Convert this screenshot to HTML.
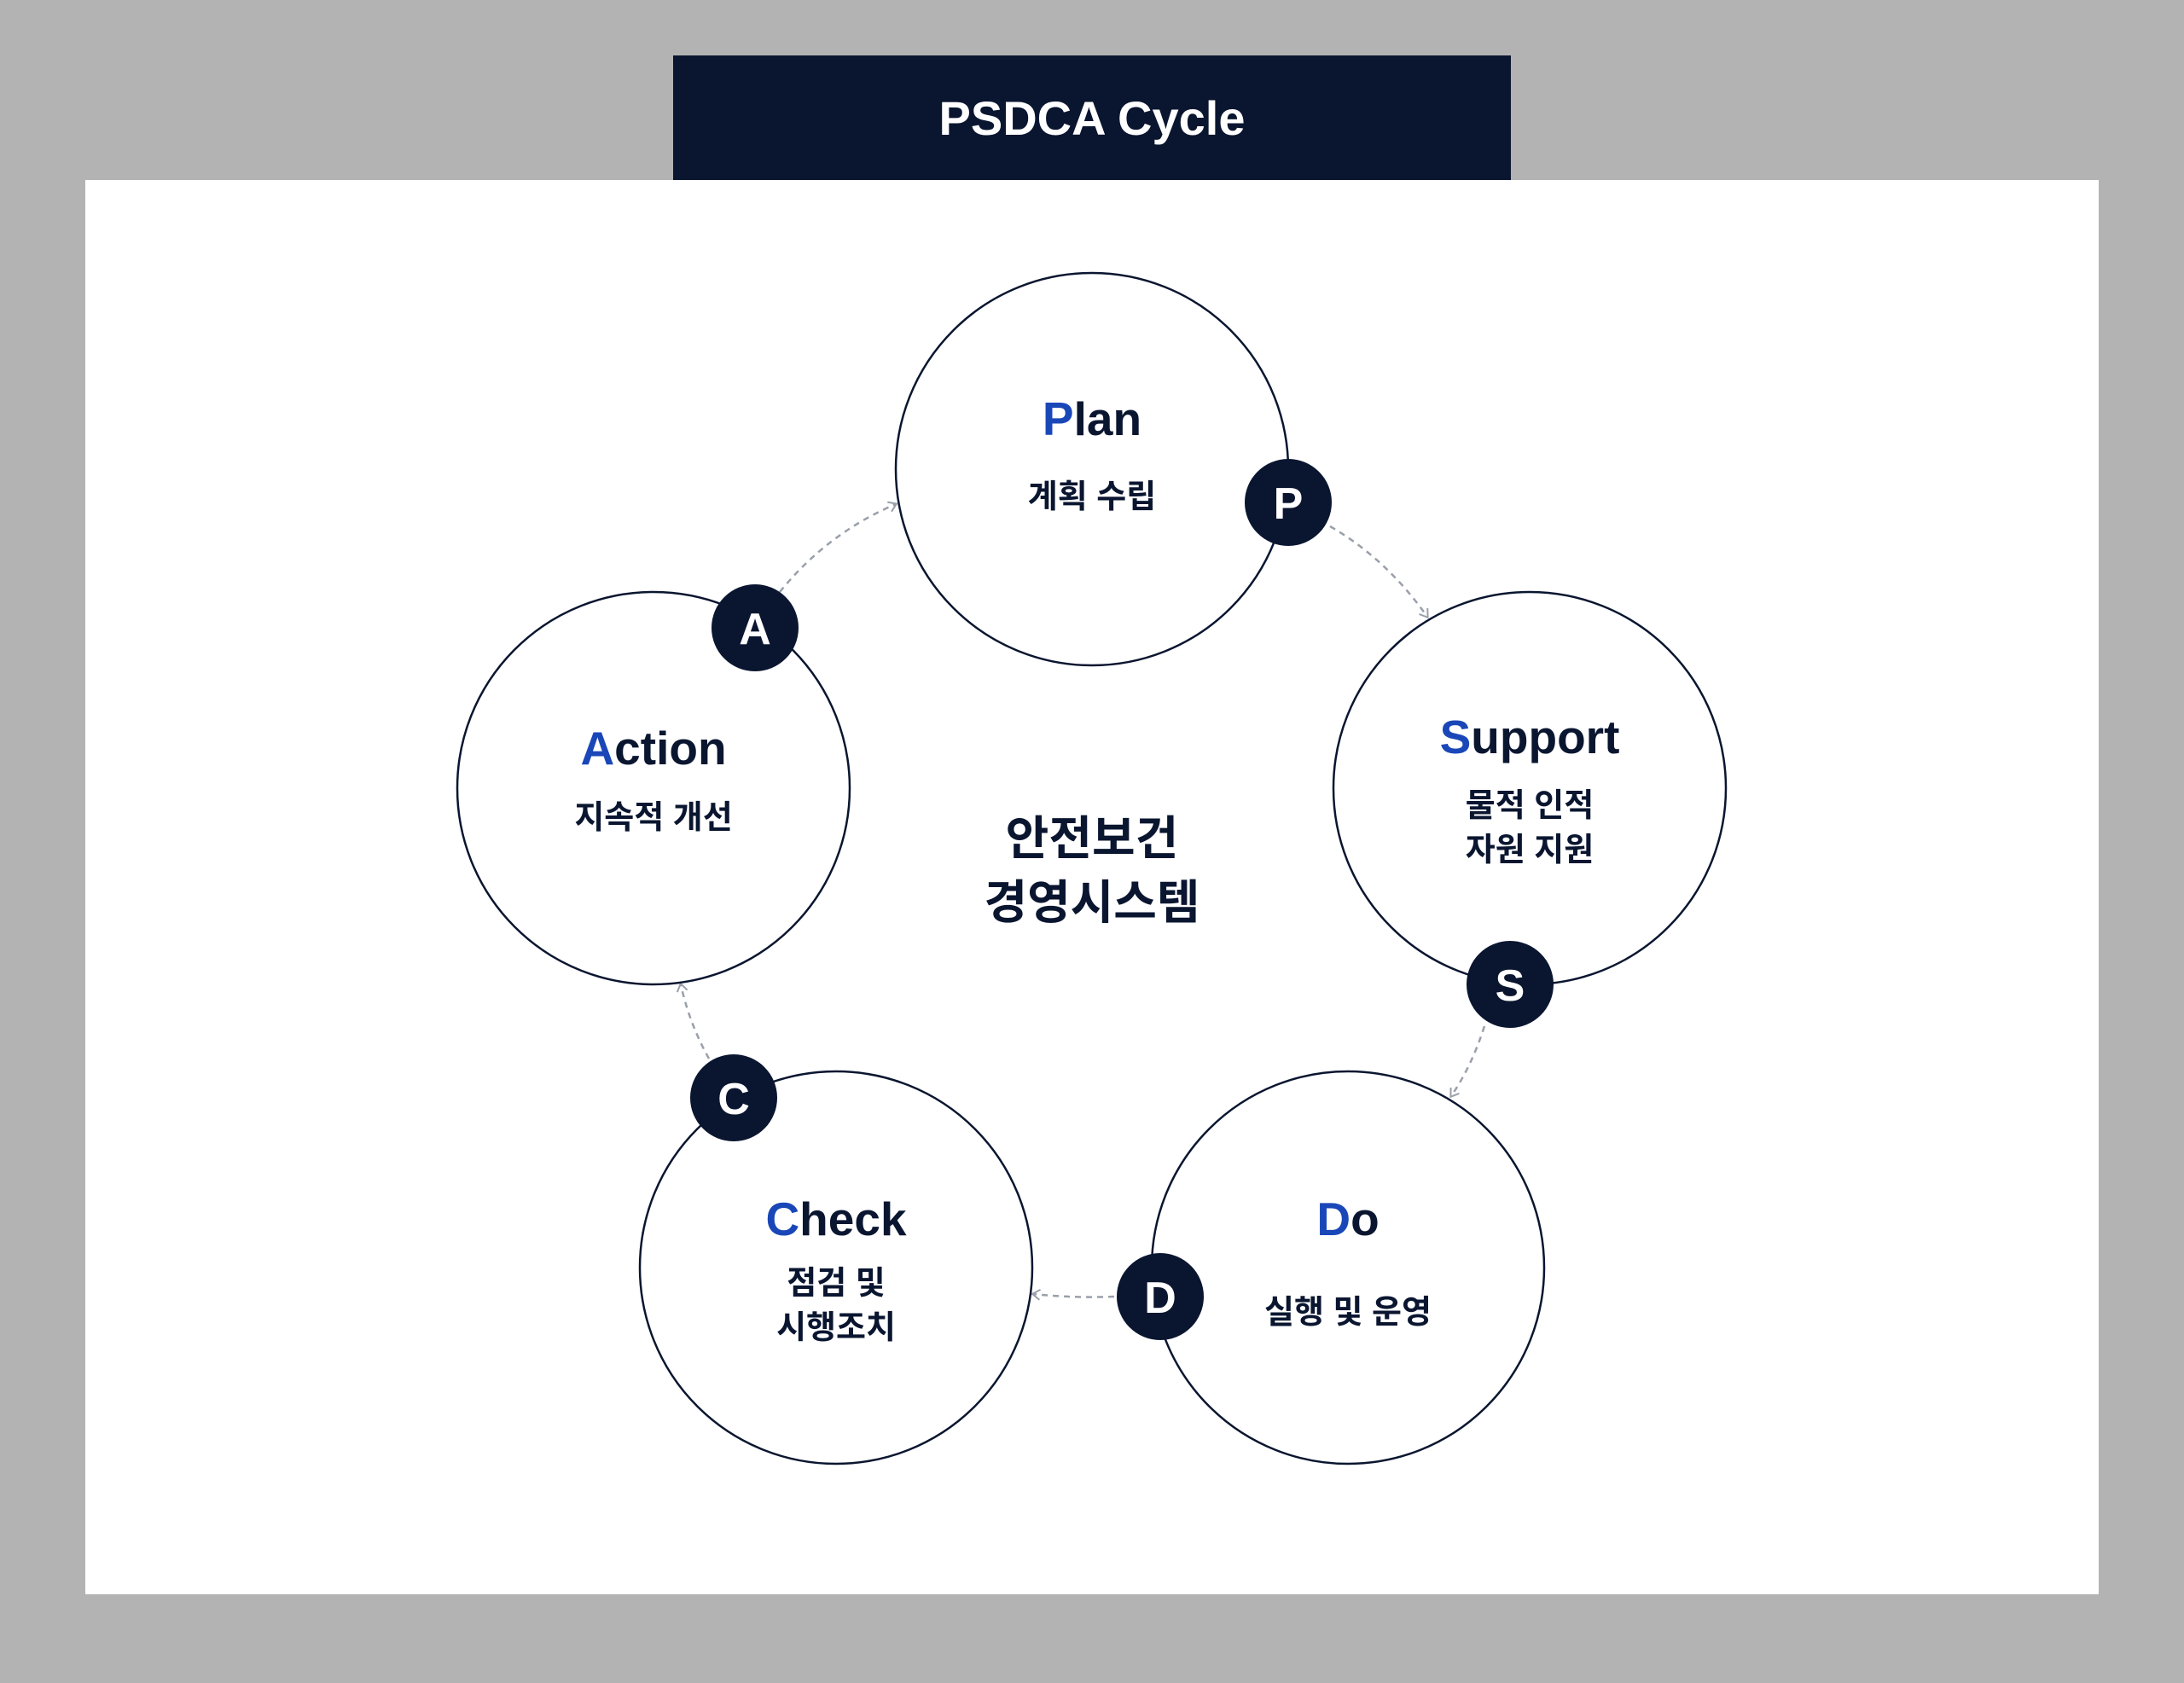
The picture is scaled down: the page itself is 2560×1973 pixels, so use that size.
<!DOCTYPE html>
<html><head><meta charset="utf-8"><style>
html,body{margin:0;padding:0;background:#b3b3b3;}
svg{display:block;}
text{font-family:"Liberation Sans","Noto Sans CJK KR",sans-serif;}
</style></head><body>
<svg width="2560" height="1973" viewBox="0 0 2560 1973" xmlns="http://www.w3.org/2000/svg">
<rect x="0" y="0" width="2560" height="1973" fill="#b3b3b3"/>
<rect x="100" y="211" width="2360" height="1658" fill="#fff"/>
<rect x="789" y="65" width="982" height="146" fill="#0a1630"/>
<text x="1280" y="158" text-anchor="middle" font-size="56" font-weight="bold" fill="#fff">PSDCA Cycle</text>
<defs><marker id="ah" markerWidth="14" markerHeight="14" refX="10" refY="7" orient="auto" markerUnits="userSpaceOnUse"><path d="M2,1 L11,7 L2,13" fill="none" stroke="#9aa0aa" stroke-width="2"/></marker></defs>
<g fill="none" stroke="#9aa0aa" stroke-width="2.5" stroke-dasharray="7,6" marker-end="url(#ah)">
<path d="M914,694 Q970,625 1050,591"/>
<path d="M1559,617 Q1625,655 1673,723"/>
<path d="M1740,1203 Q1725,1250 1701,1285"/>
<path d="M1306,1520 Q1260,1522 1211,1517"/>
<path d="M831,1241 Q808,1200 798,1154"/>
</g>
<g fill="#fff" stroke="#0a1630" stroke-width="2.5">
<circle cx="1280" cy="550" r="230"/>
<circle cx="1793" cy="924" r="230"/>
<circle cx="1580" cy="1486" r="230"/>
<circle cx="980" cy="1486" r="230"/>
<circle cx="766" cy="924" r="230"/>
</g>
<g font-weight="bold" fill="#0a1630" text-anchor="middle">
<text x="1280" y="510" font-size="55"><tspan fill="#1a47b8">P</tspan>lan</text>
<text x="1280" y="595" font-size="38">계획 수립</text>
<text x="1793" y="883" font-size="55"><tspan fill="#1a47b8">S</tspan>upport</text>
<text x="1793" y="957" font-size="38">물적 인적</text>
<text x="1793" y="1009" font-size="38">자원 지원</text>
<text x="1580" y="1448" font-size="55"><tspan fill="#1a47b8">D</tspan>o</text>
<text x="1580" y="1551" font-size="38">실행 및 운영</text>
<text x="980" y="1448" font-size="55"><tspan fill="#1a47b8">C</tspan>heck</text>
<text x="980" y="1517" font-size="38">점검 및</text>
<text x="980" y="1569" font-size="38">시행조치</text>
<text x="766" y="896" font-size="55"><tspan fill="#1a47b8">A</tspan>ction</text>
<text x="766" y="971" font-size="38">지속적 개선</text>
<text x="1280" y="1002" font-size="55">안전보건</text>
<text x="1280" y="1077" font-size="55">경영시스템</text>
</g>
<g fill="#0a1630">
<circle cx="1510" cy="589" r="51"/>
<circle cx="1770" cy="1154" r="51"/>
<circle cx="1360" cy="1520" r="51"/>
<circle cx="860" cy="1287" r="51"/>
<circle cx="885" cy="736" r="51"/>
</g>
<g fill="#fff" font-weight="bold" font-size="52" text-anchor="middle">
<text x="1510" y="608">P</text>
<text x="1770" y="1173">S</text>
<text x="1360" y="1539">D</text>
<text x="860" y="1306">C</text>
<text x="885" y="755">A</text>
</g>
</svg>
</body></html>
